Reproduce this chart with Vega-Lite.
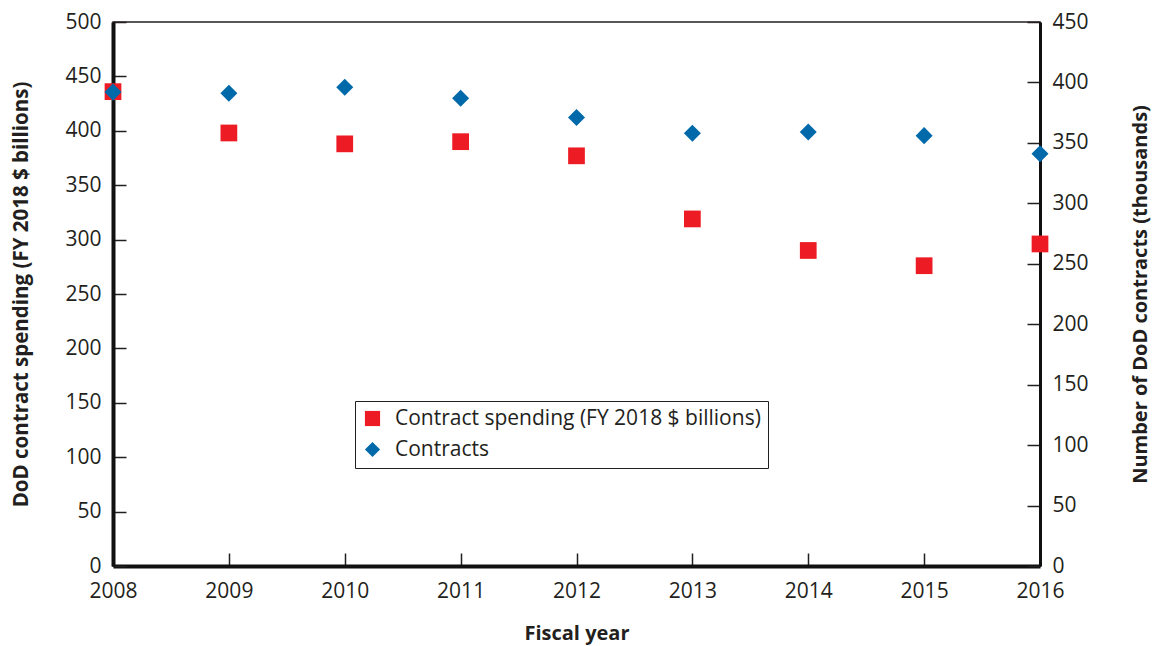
{
  "$schema": "https://vega.github.io/schema/vega-lite/v6.json",
  "width": 927,
  "height": 544,
  "autosize": {"type": "none"},
  "padding": {"left": 113, "top": 22, "right": 114, "bottom": 80},
  "background": "white",
  "config": {
    "font": "Open Sans",
    "view": {"stroke": "#231F20", "strokeWidth": 1.5},
    "axis": {
      "labelFont": "Open Sans",
      "labelFontSize": 21,
      "labelColor": "#231F20",
      "titleFont": "Open Sans",
      "titleFontSize": 20,
      "titleFontWeight": "bold",
      "titleColor": "#231F20",
      "tickColor": "#231F20",
      "tickWidth": 1.5,
      "tickSize": -13,
      "domainColor": "#111111",
      "labelFlush": false,
      "labelOverlap": false,
      "grid": false
    }
  },
  "data": {
    "values": [
      {"year": 2008, "series": "Contract spending (FY 2018 $ billions)", "value": 436},
      {"year": 2009, "series": "Contract spending (FY 2018 $ billions)", "value": 398},
      {"year": 2010, "series": "Contract spending (FY 2018 $ billions)", "value": 388},
      {"year": 2011, "series": "Contract spending (FY 2018 $ billions)", "value": 390},
      {"year": 2012, "series": "Contract spending (FY 2018 $ billions)", "value": 377},
      {"year": 2013, "series": "Contract spending (FY 2018 $ billions)", "value": 319},
      {"year": 2014, "series": "Contract spending (FY 2018 $ billions)", "value": 290},
      {"year": 2015, "series": "Contract spending (FY 2018 $ billions)", "value": 276},
      {"year": 2016, "series": "Contract spending (FY 2018 $ billions)", "value": 296},
      {"year": 2008, "series": "Contracts", "value": 392},
      {"year": 2009, "series": "Contracts", "value": 391},
      {"year": 2010, "series": "Contracts", "value": 396},
      {"year": 2011, "series": "Contracts", "value": 387},
      {"year": 2012, "series": "Contracts", "value": 371},
      {"year": 2013, "series": "Contracts", "value": 358},
      {"year": 2014, "series": "Contracts", "value": 359},
      {"year": 2015, "series": "Contracts", "value": 356},
      {"year": 2016, "series": "Contracts", "value": 341}
    ]
  },
  "encoding": {
    "x": {
      "field": "year",
      "type": "quantitative",
      "scale": {"domain": [2008, 2016], "nice": false, "zero": false},
      "axis": {
        "title": "Fiscal year",
        "values": [2008, 2009, 2010, 2011, 2012, 2013, 2014, 2015, 2016],
        "format": "d",
        "domainWidth": 4,
        "labelPadding": 27,
        "titlePadding": 22
      }
    },
    "color": {
      "field": "series",
      "type": "nominal",
      "scale": {
        "domain": ["Contract spending (FY 2018 $ billions)", "Contracts"],
        "range": ["#ED1C24", "#0069AA"]
      },
      "legend": {
        "title": null,
        "orient": "none",
        "legendX": 242,
        "legendY": 379,
        "labelFont": "Open Sans",
        "labelFontSize": 21,
        "labelColor": "#231F20",
        "labelLimit": 0,
        "symbolSize": 230,
        "symbolOpacity": 1,
        "strokeColor": "#231F20",
        "padding": 7,
        "rowPadding": 8,
        "labelOffset": 12,
        "fillColor": "white"
      }
    },
    "shape": {
      "field": "series",
      "type": "nominal",
      "scale": {
        "domain": ["Contract spending (FY 2018 $ billions)", "Contracts"],
        "range": ["square", "diamond"]
      }
    }
  },
  "layer": [
    {
      "transform": [{"filter": "datum.series === 'Contract spending (FY 2018 $ billions)'"}],
      "mark": {"type": "point", "filled": true, "opacity": 1, "size": 280},
      "encoding": {
        "y": {
          "field": "value",
          "type": "quantitative",
          "scale": {"domain": [0, 500], "nice": false},
          "axis": {
            "orient": "left",
            "title": "DoD contract spending (FY 2018 $ billions)",
            "titleFontSize": 20.5,
            "values": [0, 50, 100, 150, 200, 250, 300, 350, 400, 450, 500],
            "domainWidth": 4,
            "labelPadding": 25,
            "titlePadding": 33
          }
        }
      }
    },
    {
      "transform": [{"filter": "datum.series === 'Contracts'"}],
      "mark": {"type": "point", "filled": true, "opacity": 1, "size": 290},
      "encoding": {
        "y": {
          "field": "value",
          "type": "quantitative",
          "scale": {"domain": [0, 450], "nice": false},
          "axis": {
            "orient": "right",
            "title": "Number of DoD contracts (thousands)",
            "titleAngle": 270,
            "values": [0, 50, 100, 150, 200, 250, 300, 350, 400, 450],
            "domainWidth": 3,
            "labelPadding": 25,
            "titlePadding": 62
          }
        }
      }
    }
  ],
  "resolve": {"scale": {"y": "independent"}}
}
